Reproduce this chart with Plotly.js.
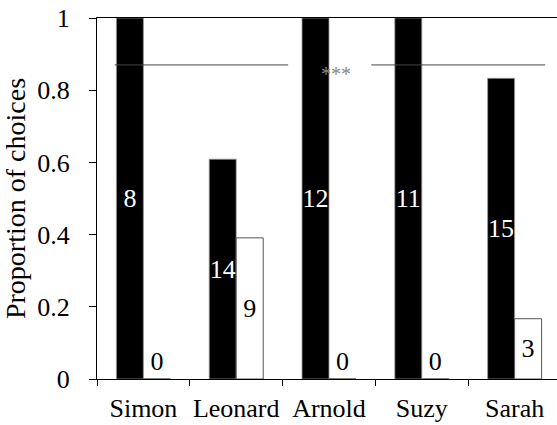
<!DOCTYPE html>
<html>
<head>
<meta charset="utf-8">
<script src="https://cdn.plot.ly/plotly-3.0.1.min.js"></script>
<style>
html,body{margin:0;padding:0;overflow:hidden;background:#fff;}
#chart{width:561px;height:425px;}
</style>
</head>
<body>
<div id="chart"></div>
<script>
// Data
const categories = ["Simon", "Leonard", "Arnold", "Suzy", "Sarah"];
const chosenCounts = [8, 14, 12, 11, 15];
const otherCounts = [0, 9, 0, 0, 3];
const chosenProp = [1, 0.609, 1, 1, 0.833];
const otherProp = [0, 0.391, 0, 0, 0.167];
const yTicks = [0, 0.2, 0.4, 0.6, 0.8, 1];
const yTickText = ["0", "0.2", "0.4", "0.6", "0.8", "1"];
const sigLevel = 0.87;
const sigLabel = "***";
const sigSegments = [[-0.31, 1.56], [2.455, 4.33]];
const sigLabelX = 2.07;

const fam = "Liberation Serif";

function draw() {
  const traceChosen = {
    type: "bar",
    x: categories,
    y: chosenProp,
    text: chosenCounts.map(String),
    textposition: "inside",
    insidetextanchor: "middle",
    constraintext: "none",
    textfont: {family: fam, size: 26, color: "#ffffff"},
    marker: {color: "#000000", line: {color: "#9a9a9a", width: 0.8}},
    hoverinfo: "none",
    showlegend: false
  };
  const traceOther = {
    type: "bar",
    x: categories,
    y: otherProp,
    text: otherCounts.map(String),
    textposition: otherProp.map(v => v > 0 ? "inside" : "outside"),
    insidetextanchor: "middle",
    constraintext: "none",
    textfont: {family: fam, size: 26, color: "#000000"},
    marker: {color: "#ffffff", line: {color: "#555555", width: 1}},
    hoverinfo: "none",
    showlegend: false,
    cliponaxis: false
  };

  const shapes = sigSegments.map(s => ({
    type: "line", xref: "x", yref: "y",
    x0: s[0], x1: s[1], y0: sigLevel, y1: sigLevel,
    line: {color: "#444444", width: 1}
  }));

  const layout = {
    width: 561,
    height: 425,
    margin: {l: 97, r: 0, t: 18, b: 46},
    paper_bgcolor: "#ffffff",
    plot_bgcolor: "#ffffff",
    barmode: "group",
    bargap: 0.418,
    bargroupgap: 0,
    font: {family: fam, size: 26, color: "#000000"},
    xaxis: {
      type: "category",
      tickson: "boundaries",
      ticks: "outside",
      ticklen: 6,
      tickcolor: "#000000",
      tickwidth: 1,
      tickangle: 0,
      showline: true,
      linecolor: "#000000",
      linewidth: 1,
      mirror: true,
      showgrid: false,
      zeroline: false,
      tickfont: {family: fam, size: 26, color: "#000000"},
      ticklabelstandoff: 6,
      fixedrange: true
    },
    yaxis: {
      range: [0, 1],
      tickvals: yTicks,
      ticktext: yTickText,
      ticks: "outside",
      ticklen: 7,
      tickcolor: "#000000",
      tickwidth: 1,
      showline: true,
      linecolor: "#000000",
      linewidth: 1,
      showgrid: false,
      zeroline: false,
      tickfont: {family: fam, size: 26, color: "#000000"},
      ticklabelstandoff: 14,
      title: {text: "Proportion of choices", font: {family: fam, size: 28, color: "#000000"}, standoff: 10},
      fixedrange: true
    },
    shapes: shapes,
    annotations: [{
      xref: "x", yref: "y", x: sigLabelX, y: sigLevel,
      text: sigLabel, showarrow: false,
      font: {family: fam, size: 20, color: "#888888"},
      yanchor: "top", yshift: 4
    }]
  };

  return Plotly.newPlot("chart", [traceChosen, traceOther], layout, {displayModeBar: false, staticPlot: true});
}

let done = false;
function go() { if (done) return; done = true; draw(); }
if (document.fonts && document.fonts.load) {
  document.fonts.load('26px "Liberation Serif"', "Simon 0.8").then(go, go);
  setTimeout(go, 800);
} else {
  go();
}
</script>
</body>
</html>
